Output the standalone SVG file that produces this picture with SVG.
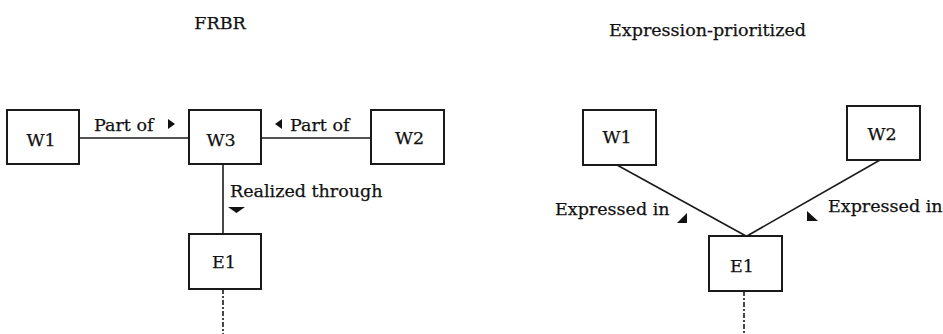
<svg xmlns="http://www.w3.org/2000/svg" width="943" height="334" viewBox="0 0 943 334">
  <style>
    text { font-family: "DejaVu Serif", "Liberation Serif", serif; font-size: 17.5px; fill: #111; stroke: #111; stroke-width: 0.25; }
    .mid { text-anchor: middle; }
    .box { fill: #fff; stroke: #1a1a1a; stroke-width: 2; }
    .link { stroke: #1a1a1a; stroke-width: 1.6; fill: none; }
    .dashdot { stroke: #1a1a1a; stroke-width: 1.6; fill: none; stroke-dasharray: 5 2 2 2; }
    .tri { fill: #111; }
  </style>

  <!-- FRBR model -->
  <text class="mid" x="220" y="29">FRBR</text>

  <g id="frbr-connectors">
    <line class="link" x1="79" y1="138" x2="189" y2="138"/>
    <line class="link" x1="261" y1="138" x2="371" y2="138"/>
    <line class="link" x1="223" y1="164" x2="223" y2="234"/>
    <line class="dashdot" x1="223" y1="289" x2="223" y2="334"/>
    <text x="94" y="131">Part of</text>
    <polygon class="tri" points="168,119 175,124 168,129"/>
    <polygon class="tri" points="282,119 275,124 282,129"/>
    <text x="290" y="131">Part of</text>
    <text x="230" y="197">Realized through</text>
    <polygon class="tri" points="228,207 245,207 236.5,213"/>
  </g>

  <g id="frbr-w1">
    <rect class="box" x="7" y="110" width="72" height="54"/>
    <text class="mid" x="41" y="146">W1</text>
  </g>
  <g id="frbr-w3">
    <rect class="box" x="189" y="110" width="72" height="54"/>
    <text class="mid" x="221" y="146">W3</text>
  </g>
  <g id="frbr-w2">
    <rect class="box" x="371" y="110" width="73" height="54"/>
    <text class="mid" x="409.5" y="144">W2</text>
  </g>
  <g id="frbr-e1">
    <rect class="box" x="189" y="234" width="72" height="55"/>
    <text class="mid" x="224" y="268">E1</text>
  </g>

  <!-- Expression-prioritized model -->
  <text class="mid" x="707.5" y="36">Expression-prioritized</text>

  <g id="expr-connectors">
    <line class="link" x1="617" y1="165" x2="746" y2="236"/>
    <line class="link" x1="880" y1="160" x2="747" y2="236"/>
    <line class="dashdot" x1="744" y1="291" x2="744" y2="334"/>
    <text x="555" y="215">Expressed in</text>
    <polygon class="tri" points="687,213 687,223 677,223"/>
    <polygon class="tri" points="807,211 807,221 818,221"/>
    <text x="828" y="212">Expressed in</text>
  </g>

  <g id="expr-w1">
    <rect class="box" x="583" y="110" width="73" height="55"/>
    <text class="mid" x="617" y="143">W1</text>
  </g>
  <g id="expr-w2">
    <rect class="box" x="847" y="106" width="73" height="54"/>
    <text class="mid" x="882" y="140">W2</text>
  </g>
  <g id="expr-e1">
    <rect class="box" x="709" y="236" width="73" height="55"/>
    <text class="mid" x="742" y="272">E1</text>
  </g>
</svg>
